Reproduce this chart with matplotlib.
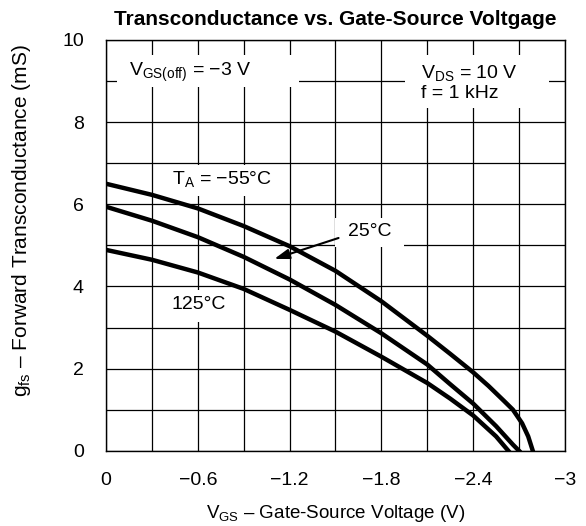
import numpy as np
import matplotlib
matplotlib.use("Agg")
import matplotlib.pyplot as plt
from matplotlib.patches import Rectangle

plt.rcParams["font.family"] = ["Liberation Sans", "DejaVu Sans"]
plt.rcParams["mathtext.fontset"] = "custom"
plt.rcParams["mathtext.rm"] = "Liberation Sans"

# Data (V_GS in volts, g_fs in mS)
vgs_m55 = [0, -0.3, -0.6, -0.9, -1.2, -1.5, -1.8, -2.1, -2.25, -2.4, -2.5, -2.6, -2.66, -2.72, -2.76, -2.79]
gfs_m55 = [6.50, 6.23, 5.90, 5.47, 4.98, 4.38, 3.64, 2.80, 2.36, 1.91, 1.58, 1.22, 1.00, 0.67, 0.35, 0.0]

vgs_25 = [0, -0.3, -0.6, -0.9, -1.2, -1.5, -1.8, -2.1, -2.25, -2.4, -2.55, -2.66, -2.70]
gfs_25 = [5.94, 5.60, 5.20, 4.72, 4.17, 3.55, 2.86, 2.10, 1.62, 1.15, 0.60, 0.15, 0.0]

vgs_125 = [0, -0.3, -0.6, -0.9, -1.2, -1.5, -1.8, -2.1, -2.25, -2.4, -2.55, -2.63]
gfs_125 = [4.89, 4.65, 4.34, 3.94, 3.43, 2.90, 2.29, 1.65, 1.27, 0.86, 0.35, 0.0]

x_ticks = [0, -0.6, -1.2, -1.8, -2.4, -3]
x_labels = ["0", "\u22120.6", "\u22121.2", "\u22121.8", "\u22122.4", "\u22123"]
y_ticks = [0, 2, 4, 6, 8, 10]

FS = 14

fig = plt.figure(figsize=(5.86, 5.26), dpi=100)
ax = fig.add_axes([0.181, 0.143, 0.783, 0.781])

for v, g in [(vgs_m55, gfs_m55), (vgs_25, gfs_25), (vgs_125, gfs_125)]:
    ax.plot(v, g, color="black", linewidth=3.2, solid_joinstyle="round", zorder=3)

ax.set_xlim(0, -3)
ax.set_ylim(0, 10)
ax.set_xticks(x_ticks)
ax.set_xticklabels(x_labels)
ax.set_xticks(np.arange(0, -3.01, -0.3), minor=True)
ax.set_yticks(y_ticks)
ax.set_yticks(np.arange(0, 10.1, 1), minor=True)
ax.tick_params(which="both", length=0, labelsize=FS)
ax.tick_params(axis="x", pad=15)
ax.tick_params(axis="y", pad=16)
ax.set_axisbelow(True)
ax.grid(which="both", color="black", linewidth=0.9)
for s in ax.spines.values():
    s.set_linewidth(1.0)

# white boxes hiding the grid behind the notes
boxes = [(-0.07, 8.86, -1.19, 0.78), (-1.957, 8.35, -0.94, 1.29),
         (-0.43, 6.20, -0.64, 0.76), (-1.50, 4.96, -0.45, 0.71),
         (-0.38, 3.14, -0.47, 0.78)]
for x0, y0, w, h in boxes:
    ax.add_patch(Rectangle((x0, y0), w, h, facecolor="white", edgecolor="none", zorder=1))

ax.text(-0.15, 9.2, "$\\mathregular{V_{GS(off)}}$ = \u22123 V", fontsize=FS, va="center", ha="left", zorder=4)
ax.text(-2.06, 9.2, "$\\mathregular{V_{DS}}$ = 10 V", fontsize=FS, va="center", ha="left", zorder=4)
ax.text(-2.06, 8.7, "f = 1 kHz", fontsize=FS, va="center", ha="left", zorder=4)
ax.text(-0.43, 6.62, "$\\mathregular{T_A}$ = \u221255\u00b0C", fontsize=FS, va="center", ha="left", zorder=4)
ax.text(-1.724, 5.33, "25\u00b0C", fontsize=FS, va="center", ha="center", zorder=4)
ax.text(-0.43, 3.55, "125\u00b0C", fontsize=FS, va="center", ha="left", zorder=4)

ax.annotate("", xy=(-1.10, 4.67), xytext=(-1.52, 5.18),
            arrowprops=dict(arrowstyle="-|>,head_length=0.9,head_width=0.3",
                            color="black", lw=1.5, shrinkA=0, shrinkB=0), zorder=5)

ax.set_title("Transconductance vs. Gate-Source Voltgage", fontsize=15, fontweight="bold", pad=11)
ax.set_xlabel("$\\mathregular{V_{GS}}$ \u2013 Gate-Source Voltage (V)", fontsize=13.5, labelpad=10)
ax.set_ylabel("$\\mathregular{g_{fs}}$ \u2013 Forward Transconductance (mS)", fontsize=15)
ax.yaxis.set_label_coords(-0.159, 0.56)

fig.savefig("out.png", dpi=100)
